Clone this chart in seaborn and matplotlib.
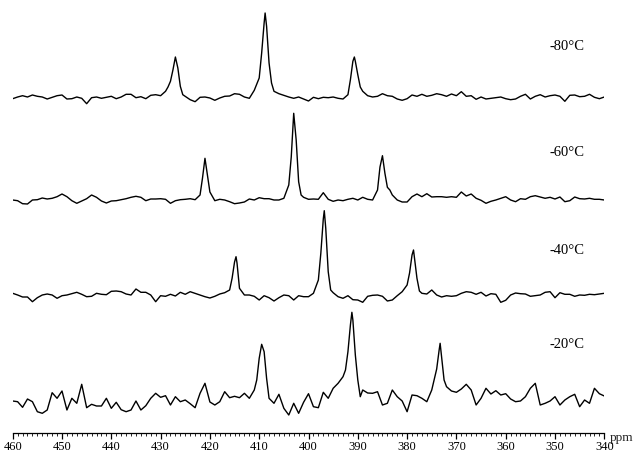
import numpy as np
import pandas as pd
import seaborn as sns
import matplotlib.pyplot as plt
from matplotlib.ticker import MultipleLocator
from matplotlib.transforms import blended_transform_factory

# chemical shift grid (ppm), 1 ppm steps, 460 -> 340
ppm_grid = list(range(460, 339, -1))

# intensities (arbitrary units, baseline = 0)
int_m80 = [-0.7, 1, 2.3, 1, 3, 1.7, 1, -1, 0.7, 2.3,
           3, -1, -0.7, 1, -0.3, -5.7, 0.3, 1, -0.3, 0.7,
           1.7, -0.7, 1, 3.7, 3.7, 0.3, 1.3, -0.7, 2.7, 3.3,
           2.3, 6.7, 16.7, 41, 11.7, 1.7, -1.7, -3.7, 0.7, 1,
           0, -2.3, 0, 1.7, 2, 4.3, 3.7, 1, -0.3, 7.7,
           20, 75, 35, 6.7, 4.3, 2.7, 1, -0.3, 1, -1,
           -3, 0.7, -0.7, 0.7, 0.3, 1, -0.3, -1, 3.3, 36.7,
           23.3, 6.7, 2.3, 1, 1.7, 4.3, 2.3, 1.7, -1, -2.3,
           -0.7, 3, 1.7, 3.7, 1.7, 2.7, 4.3, 3.3, 1.7, 4,
           2.3, 6.3, 1.7, 2.3, -1.3, 1, -1, -0.3, 0.3, 1,
           -0.7, -1.7, -1, 1.7, 3.7, -1, 1.7, 3.3, 1, 2.3,
           3, 1.7, -3.3, 2.7, 3, 1.3, 1.7, 3.7, 0.7, -0.7,
           1]
int_m60 = [0, -0.7, -3.7, -4, 0, 0.3, 2, 1, 1.7, 3.3,
           6, 3.3, -0.7, -3.3, -1, 1.3, 5, 2.7, -1, -3,
           -1, -0.7, 0.3, 1.3, 2.7, 3.7, 2.7, -0.7, 1, 1,
           1.3, 0.7, -3.3, -0.7, 0.3, 0.7, 1.3, 0.3, 5, 41.7,
           8, -0.7, 0.7, 0, -1.7, -3.7, -3, -2, 1, 0,
           2.3, 1.3, 1.3, 0, 0, 1.7, 15, 86.7, 18.3, 2.7,
           0.7, 1, 0.7, 7.3, 0.7, -1.3, 0, -0.7, 0.7, 1.7,
           0, 2.7, 0.7, 0, 10, 44.3, 12.7, 5, 0, -2,
           -2, 3.3, 6, 3.3, 6.3, 3, 3.3, 3.3, 2.7, 3.3,
           2.7, 8, 4, 6, 1.7, -0.3, -3.3, -1.3, 0, 1.7,
           3.3, 0, -1.7, 1.3, 0.7, 3.3, 4.3, 3, 1.7, 2.7,
           1, 3, -1.7, -0.7, 3, 1.3, 1, 1.7, 0.7, 0.7,
           0]
int_m40 = [1.7, 0, -2, -2, -6.7, -2.7, 0, 1, 0, -3.3,
           -0.7, 0, 1.3, 2.7, 0.7, -1.7, -1.3, 1.7, 0.7, 0.3,
           3.7, 4, 3.3, 1, 0, 6, 2.7, 2.7, 0, -6.7,
           -0.7, -1.3, 0.7, -1, 2.7, 0.7, 3.3, 1.7, 0, -1.7,
           -3, -1.3, 1, 2.3, 5, 33, 6.7, 0, 0, -1.3,
           -5, -0.7, -2.7, -6, -2.7, 0, -0.7, -5, -0.7, -1.7,
           -1.7, 1.7, 15, 76, 23.3, 2.3, -1.7, -3.3, -0.7, -4.7,
           -5, -7.3, -1.3, -0.3, 0, -1.3, -6, -5, -0.7, 3.3,
           10, 40, 16.7, 1.7, 1, 5, 0, -2, -0.7, -1.3,
           -0.7, 1.7, 3.3, 2.7, 0.7, 2.7, -1, 1.3, 0.7, -7.3,
           -5.3, 0, 2, 1.3, 1, -1.3, -0.7, 0, 2.7, 3.3,
           -2.7, 2.3, 0.7, 0.7, -1.3, 0, -0.3, 0.7, 0.3, 1,
           1.7]
int_m20 = [-1, -1.7, -7.3, 1, -1.7, -11.7, -13.3, -10, 7.3, 1.7,
           9, -10, 1.7, -3.3, 15.7, -7.7, -4.3, -6, -6, 1.7,
           -8.3, -2.3, -9.7, -11.7, -10, -1, -10, -5.7, 1.7, 6.7,
           2.7, 4.3, -5, 3.3, -1.7, 0, -3.7, -7.7, 6.7, 16.7,
           -2, -5, -1.7, 8.3, 2.3, 3.7, 2.3, 6.7, 1.7, 10,
           41.7, 48.3, 1.7, -3.3, 5.7, -8.3, -15, -3.3, -13.3, -2.3,
           6.3, -6.7, -7.7, 7.7, 1.7, 11.7, 16.7, 23.3, 48.3, 80,
           20, 10, 7, 6.7, 8.3, -5, -3.3, 10, 3.3, -1,
           -11.7, 5, 4.3, 1.7, -1.7, 10, 31, 43.3, 13.3, 9,
           7.7, 11, 15.7, 10, -5, 1.7, 11.7, 6, 9.3, 5,
           6.3, 1, -1.7, -1, 3.3, 11.7, 16.7, -5, -3.3, -1,
           3.3, -5, 0, 3.3, 5.7, -6.7, 0, -3.3, 11.7, 6.3,
           4]

# extra points read across the peaks (between grid steps)
pk_ppm_m80 = [428.5, 427.5, 426.5, 425.5, 409.5, 408.8, 408.5, 407.5, 391.5, 390.7, 390.5, 389.5]
pk_int_m80 = [11, 28, 30, 3.3, 45, 85, 71.7, 15, 18.3, 41, 36.7, 11]
pk_ppm_m60 = [421.5, 420.5, 403.5, 402.5, 401.5, 385.5, 384.5, 383.5]
pk_int_m60 = [22, 25, 43, 60, 5, 33, 26.7, 10]
pk_ppm_m40 = [415.5, 414.7, 414.5, 397.5, 396.8, 396.5, 395.5, 379.5, 378.7, 378.5, 377.5]
pk_int_m40 = [16.7, 38.3, 32, 41.7, 84.3, 66.7, 5, 22, 45, 36.7, 4]
pk_ppm_m20 = [410.5, 409.5, 408.5, 392.5, 391.5, 391.2, 390.5, 389.5, 373.5, 373.3, 372.5]
pk_int_m20 = [20, 55.7, 21.7, 30, 75, 87.7, 45, 3.3, 50, 56.7, 20]

temps = ['-80°C', '-60°C', '-40°C', '-20°C']

traces = [(int_m80, pk_ppm_m80, pk_int_m80),
          (int_m60, pk_ppm_m60, pk_int_m60),
          (int_m40, pk_ppm_m40, pk_int_m40),
          (int_m20, pk_ppm_m20, pk_int_m20)]
offsets = [335, 233, 138, 33]
label_y = [387, 281, 183, 88]

frames = []
for t, (vals, pk_x, pk_y), off in zip(temps, traces, offsets):
    d = pd.DataFrame({'ppm': ppm_grid + pk_x, 'intensity': vals + pk_y})
    d['y'] = d['intensity'] + off
    d['trace'] = t
    frames.append(d.sort_values('ppm'))
df = pd.concat(frames, ignore_index=True)

sns.set_theme(style="white")
plt.rcParams['font.family'] = ['Liberation Serif', 'DejaVu Serif']

fig = plt.figure(figsize=(6.35, 4.55), dpi=100)
ax = fig.add_axes([12.7 / 635, 22 / 455, 591.6 / 635, 433 / 455])

sns.lineplot(data=df, x='ppm', y='y', units='trace', estimator=None,
             color='black', linewidth=1.0, ax=ax, legend=False)

ax.set_xlim(460, 340)
ax.set_ylim(0, 433)

for t, ly in zip(temps, label_y):
    ax.text(351.2, ly, t, fontsize=10.5, ha='left', va='center', color='black')

for side in ['left', 'top', 'right']:
    ax.spines[side].set_visible(False)
ax.spines['bottom'].set_color('black')
ax.spines['bottom'].set_linewidth(0.9)

ax.xaxis.set_major_locator(MultipleLocator(10))
ax.xaxis.set_minor_locator(MultipleLocator(1))
ax.tick_params(axis='x', which='major', direction='out', length=4.5, width=0.9,
               labelsize=9, pad=1, colors='black', bottom=True)
ax.tick_params(axis='x', which='minor', direction='out', length=2.5, width=0.7,
               bottom=True)
ax.set_yticks([])
ax.set_xlabel('')
ax.set_ylabel('')

trans = blended_transform_factory(ax.transAxes, ax.transData)
ax.text(1.01, -5, 'ppm', transform=trans, fontsize=9.5, ha='left', va='center')

plt.savefig('out.png', dpi=100)
